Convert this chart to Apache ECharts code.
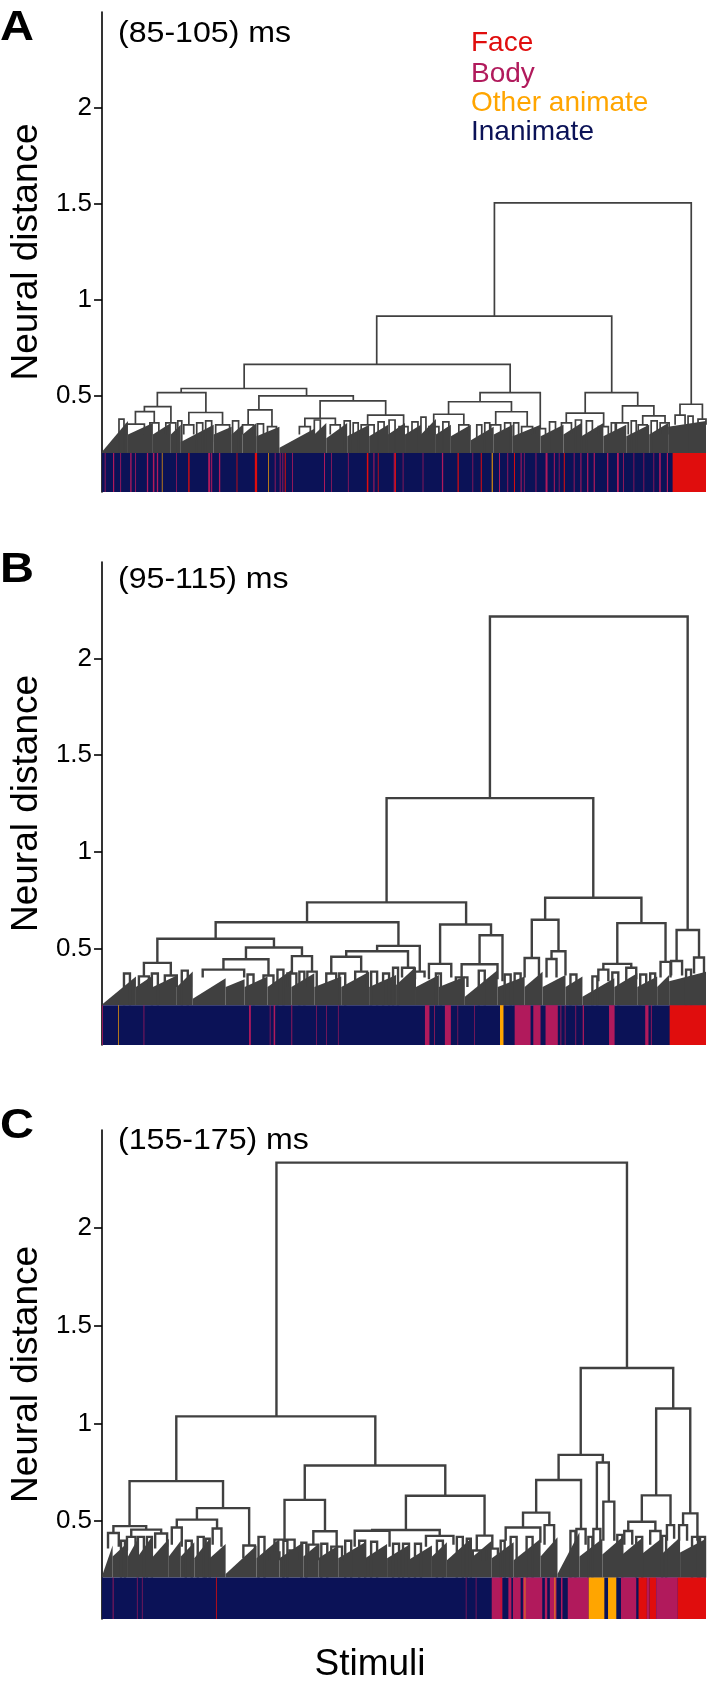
<!DOCTYPE html>
<html>
<head>
<meta charset="utf-8">
<script src="https://cdn.jsdelivr.net/npm/echarts@6/dist/echarts.min.js"></script>
<style>
  html, body { margin: 0; padding: 0; background: #fff; }
  #chart { width: 707px; height: 1682px; }
</style>
</head>
<body>
<div id="chart"></div>
<script>
  // x = stimulus position along the leaf order (0 .. nStim), y = neural distance
  var nStim = 606;
  var categories = ['Face', 'Body', 'Other animate', 'Inanimate'];
  var catColors = ['#e00d0d', '#b11a5c', '#ffa500', '#0b1257'];
  var panelLetters = ['A', 'B', 'C'];
  var timeWindows = ['(85-105) ms', '(95-115) ms', '(155-175) ms'];
  var yTicks = [0.5, 1, 1.5, 2];
  var barTop = [0.203, 0.206, 0.212]; // colour bar covers 0 .. barTop

  // dendrogram links: [x left child, x right child, merge height, left child height, right child height]
  var linksA = [
    [393.7, 591.2, 1.506, 0.916, 0.457], [275.6, 511.4, 0.916, 0.665, 0.518],
    [142.6, 409.5, 0.665, 0.539, 0.518], [79.4, 205.2, 0.539, 0.518, 0.501],
    [55.5, 104.2, 0.518, 0.445, 0.414], [157.4, 252.1, 0.501, 0.428, 0.475],
    [42.5, 69.1, 0.445, 0.419, 0.36], [87.1, 120.9, 0.414, 0.35, 0.35],
    [33.5, 52.4, 0.419, 0.353, 0.36], [218.8, 284.6, 0.475, 0.383, 0.400],
    [146.6, 170.5, 0.428, 0.35, 0.34], [203.5, 234.1, 0.383, 0.34, 0.35],
    [266.5, 302.6, 0.400, 0.35, 0.34], [379.3, 439.7, 0.518, 0.470, 0.33],
    [347.7, 410.8, 0.470, 0.405, 0.418], [332.8, 363, 0.405, 0.34, 0.35],
    [395, 426.6, 0.418, 0.35, 0.34], [484.8, 537.5, 0.518, 0.411, 0.449],
    [465.8, 503.3, 0.411, 0.36, 0.34], [522.2, 553.7, 0.449, 0.36, 0.397],
    [542.5, 564.9, 0.397, 0.35, 0.36], [579.9, 602.4, 0.457, 0.40, 0.38],
    [24.5, 42.5, 0.353, 0.3, 0.3], [64, 74, 0.36, 0.3, 0.3], [48, 57, 0.36, 0.3, 0.3],
    [82, 92, 0.35, 0.3, 0.3], [114, 128, 0.35, 0.3, 0.3], [141, 152, 0.35, 0.3, 0.3],
    [166, 175, 0.34, 0.3, 0.3], [198, 209, 0.34, 0.3, 0.3], [229, 239, 0.35, 0.3, 0.3],
    [260, 273, 0.35, 0.3, 0.3], [298, 307, 0.34, 0.3, 0.3], [434, 445, 0.33, 0.3, 0.3],
    [328, 338, 0.34, 0.3, 0.3], [358, 368, 0.35, 0.3, 0.3], [390, 400, 0.35, 0.3, 0.3],
    [421, 432, 0.34, 0.3, 0.3], [461, 471, 0.36, 0.3, 0.3], [498, 508, 0.34, 0.3, 0.3],
    [516, 528, 0.36, 0.3, 0.3], [538, 547, 0.35, 0.3, 0.3], [560, 569, 0.36, 0.3, 0.3],
    [575, 585, 0.40, 0.35, 0.35], [598, 606, 0.38, 0.35, 0.35]
  ];
  var linksB = [
    [389.2, 587.6, 2.218, 1.278, 0.595], [285.5, 492.9, 1.278, 0.738, 0.762],
    [576.5, 599, 0.595, 0.435, 0.453], [205.7, 365.3, 0.738, 0.635, 0.624],
    [444.6, 541.2, 0.762, 0.648, 0.631], [114, 297.4, 0.635, 0.55, 0.513],
    [339.2, 390.3, 0.624, 0.42, 0.568], [431.2, 458, 0.648, 0.45, 0.485],
    [517, 565.4, 0.631, 0.42, 0.43], [55.5, 172.5, 0.55, 0.425, 0.505],
    [276, 318.8, 0.513, 0.485, 0.38], [378.8, 401.8, 0.568, 0.418, 0.33],
    [328, 350.4, 0.42, 0.34, 0.35], [360.8, 396.8, 0.418, 0.35, 0.34],
    [42, 69, 0.425, 0.355, 0.36], [144.4, 200.6, 0.505, 0.444, 0.46],
    [121.8, 167, 0.444, 0.39, 0.36], [190.5, 210.7, 0.46, 0.37, 0.38],
    [245, 307, 0.485, 0.457, 0.40], [230, 260, 0.457, 0.37, 0.38],
    [301, 313, 0.40, 0.35, 0.36], [314, 323.6, 0.38, 0.34, 0.35],
    [37, 47, 0.355, 0.3, 0.3], [63, 75, 0.36, 0.3, 0.3], [101, 142.6, 0.39, 0.35, 0.35],
    [162, 172, 0.36, 0.3, 0.3], [186, 195, 0.37, 0.3, 0.3], [206, 215.4, 0.38, 0.3, 0.3],
    [225, 235, 0.37, 0.3, 0.3], [254, 266, 0.38, 0.3, 0.3], [355, 366.6, 0.35, 0.3, 0.3],
    [424, 438.4, 0.45, 0.35, 0.35], [451, 465, 0.485, 0.445, 0.36], [446, 456, 0.445, 0.35, 0.35],
    [503, 531, 0.42, 0.39, 0.40], [498, 508, 0.39, 0.33, 0.33], [526, 536, 0.40, 0.33, 0.34],
    [560.4, 570.4, 0.43, 0.35, 0.35], [571, 582, 0.435, 0.36, 0.36], [594, 604, 0.453, 0.37, 0.37]
  ];
  var linksC = [
    [175, 526.7, 2.333, 1.036, 1.283], [74.5, 274.2, 1.036, 0.705, 0.785],
    [480.3, 573.1, 1.283, 0.839, 1.076], [27.6, 121.4, 0.705, 0.475, 0.567],
    [203.4, 344.4, 0.785, 0.609, 0.63], [458.1, 502.5, 0.839, 0.711, 0.80],
    [556, 590.2, 1.076, 0.632, 0.54], [95.2, 147.6, 0.567, 0.508, 0.376],
    [11.4, 44.3, 0.475, 0.44, 0.457], [183.1, 223.7, 0.609, 0.406, 0.449],
    [304.9, 383.8, 0.63, 0.455, 0.426], [435.6, 480.6, 0.711, 0.544, 0.46],
    [496.5, 508.5, 0.80, 0.46, 0.60], [541.6, 570.4, 0.632, 0.497, 0.48],
    [583, 597.4, 0.54, 0.48, 0.40], [75, 115.4, 0.508, 0.468, 0.463],
    [141.8, 153.4, 0.376, 0.31, 0.31], [212, 235.4, 0.449, 0.38, 0.37],
    [173, 193.2, 0.406, 0.34, 0.35], [271, 338.8, 0.455, 0.451, 0.425],
    [376, 391.6, 0.426, 0.35, 0.36], [422.4, 448.8, 0.544, 0.468, 0.48],
    [6, 16.8, 0.44, 0.36, 0.37], [29.3, 59.3, 0.457, 0.42, 0.437], [25, 33.6, 0.42, 0.35, 0.36],
    [53.3, 65.3, 0.437, 0.36, 0.37], [70, 80, 0.468, 0.38, 0.37], [111, 119.8, 0.463, 0.38, 0.37],
    [253.5, 288.5, 0.451, 0.37, 0.37], [325, 352.6, 0.425, 0.37, 0.38], [405, 439.8, 0.468, 0.40, 0.39],
    [444, 453.6, 0.48, 0.38, 0.38], [476, 485.2, 0.46, 0.38, 0.38], [493, 500, 0.46, 0.37, 0.38],
    [503, 514, 0.60, 0.40, 0.40], [528, 555.2, 0.497, 0.45, 0.45], [524, 532, 0.45, 0.38, 0.38],
    [550, 560.4, 0.45, 0.38, 0.39], [566.8, 574, 0.48, 0.40, 0.41], [579, 587, 0.48, 0.40, 0.40],
    [168, 178, 0.34, 0.3, 0.3], [188, 198.4, 0.35, 0.3, 0.3], [207, 217, 0.38, 0.3, 0.3],
    [230, 240.8, 0.37, 0.3, 0.3], [372, 380, 0.35, 0.3, 0.3], [386, 397.2, 0.36, 0.3, 0.3]
  ];

  // small merges sticking out of the dense base: [x left, x right, merge height]
  var spikesA = [
    [17, 22, 0.38], [76, 80, 0.37], [95, 101, 0.36], [104, 110, 0.37], [131, 137, 0.37],
    [156, 162, 0.355], [213, 219, 0.375], [243, 249, 0.37], [252, 257, 0.36],
    [277, 283, 0.365], [288, 294, 0.375], [311, 317, 0.365], [320, 325, 0.39], [342, 348, 0.365],
    [376, 381, 0.35], [384, 389, 0.36], [404, 410, 0.36], [413, 418, 0.36], [449, 455, 0.365],
    [475, 481, 0.375], [486, 492, 0.37], [511, 515, 0.36], [531, 536, 0.37], [551, 557, 0.37],
    [588, 593, 0.395]
  ];
  var spikesB = [
    [22, 28, 0.37], [50, 56, 0.37], [80, 86, 0.385], [146, 152, 0.365],
    [176, 182, 0.39], [198, 203, 0.38], [238, 244, 0.37], [270, 276, 0.38], [282, 288, 0.37],
    [292, 297, 0.40], [335, 340, 0.37], [378, 384, 0.385], [404, 410, 0.365], [414, 420, 0.37],
    [470, 476, 0.365], [492, 497, 0.355], [512, 518, 0.375], [540, 546, 0.365], [550, 555, 0.37],
    [586, 591, 0.39]
  ];
  var spikesC = [
    [19, 23, 0.40], [36, 42, 0.42], [45, 50, 0.42], [84, 90, 0.40], [96, 102, 0.42],
    [104, 108, 0.41], [157, 163, 0.42], [182, 186, 0.40], [200, 205, 0.39],
    [220, 226, 0.385], [244, 250, 0.40], [258, 264, 0.40], [270, 276, 0.395], [292, 298, 0.385],
    [302, 308, 0.385], [314, 320, 0.385], [336, 342, 0.40], [356, 362, 0.42], [366, 370, 0.41],
    [400, 404, 0.40], [410, 416, 0.42], [426, 432, 0.42], [470, 475, 0.45],
    [488, 492, 0.42], [517, 522, 0.43], [536, 542, 0.42], [562, 566, 0.425], [592, 598, 0.42],
    [600, 605, 0.42]
  ];

  // dense low-level merges, drawn as filled runs: [x start, x end, height at start, height at end]
  var teethA = [
    [0, 26, 0.21, 0.37], [26, 51, 0.30, 0.36], [51, 69, 0.30, 0.36], [69, 79, 0.30, 0.35],
    [79, 112, 0.26, 0.35], [112, 130, 0.30, 0.34], [130, 141, 0.30, 0.35], [141, 155, 0.30, 0.36],
    [155, 178, 0.29, 0.34], [178, 213, 0.23, 0.33], [213, 225, 0.30, 0.36], [225, 246, 0.28, 0.36],
    [246, 268, 0.29, 0.35], [268, 287, 0.29, 0.35], [287, 304, 0.30, 0.36], [304, 320, 0.30, 0.35],
    [320, 335, 0.30, 0.38], [335, 350, 0.30, 0.35], [350, 370, 0.29, 0.35], [370, 393, 0.27, 0.34],
    [393, 412, 0.30, 0.35], [412, 440, 0.29, 0.35], [440, 463, 0.29, 0.35], [463, 481, 0.30, 0.36],
    [481, 503, 0.29, 0.36], [503, 526, 0.29, 0.35], [526, 549, 0.29, 0.35], [549, 568, 0.30, 0.36],
    [568, 606, 0.34, 0.37]
  ];
  var teethB = [
    [0, 34, 0.21, 0.355], [34, 51, 0.30, 0.36], [51, 75, 0.30, 0.36], [75, 91, 0.30, 0.38],
    [91, 124, 0.24, 0.345], [124, 143, 0.30, 0.34], [143, 166, 0.30, 0.355], [166, 190, 0.30, 0.388],
    [190, 213, 0.30, 0.371], [213, 240, 0.30, 0.355], [240, 268, 0.30, 0.379], [268, 295, 0.30, 0.362],
    [295, 315, 0.31, 0.405], [315, 338, 0.30, 0.362], [338, 364, 0.30, 0.355], [364, 397, 0.25, 0.388],
    [397, 424, 0.30, 0.355], [424, 442, 0.30, 0.379], [442, 465, 0.30, 0.362], [465, 482, 0.30, 0.355],
    [482, 514, 0.25, 0.345], [514, 537, 0.30, 0.371], [537, 557, 0.30, 0.355], [557, 569, 0.30, 0.362],
    [569, 606, 0.33, 0.379]
  ];
  var teethC = [
    [0, 10.6, 0.22, 0.376], [10.6, 26, 0.32, 0.393], [26, 36, 0.32, 0.41], [36, 49.6, 0.32, 0.418],
    [49.6, 67, 0.31, 0.41], [67, 79, 0.32, 0.40], [79, 92.6, 0.32, 0.393], [92.6, 108, 0.31, 0.41],
    [108, 124, 0.31, 0.384], [124, 155, 0.23, 0.376], [155, 178, 0.31, 0.41], [178, 202, 0.31, 0.393],
    [202, 217, 0.32, 0.384], [217, 237, 0.31, 0.376], [237, 264, 0.31, 0.393], [264, 286, 0.31, 0.384],
    [286, 307, 0.31, 0.376], [307, 331, 0.30, 0.376], [331, 346, 0.32, 0.393], [346, 370, 0.30, 0.41],
    [370, 391, 0.31, 0.40], [391, 413, 0.31, 0.393], [413, 440, 0.30, 0.41], [440, 457, 0.32, 0.418],
    [457, 479, 0.23, 0.444], [479, 502, 0.32, 0.41], [502, 522, 0.33, 0.418], [522, 541, 0.33, 0.41],
    [541, 561, 0.33, 0.41], [561, 580, 0.33, 0.418], [580, 606, 0.34, 0.41]
  ];

  // colour bar stripes: [x start, width, category index]; everything else is Inanimate
  var stripesA = [
    [2.7, 0.8, 1], [11, 1.2, 1], [18.3, 0.8, 1], [28.3, 1.3, 1], [33.3, 0.8, 1], [45, 1.3, 1],
    [51, 1.5, 1], [55, 1.3, 1], [60, 0.7, 2], [74.3, 0.7, 1], [86.5, 1.3, 0], [106.5, 2, 1],
    [109.5, 1, 1], [117.3, 1.3, 1], [135, 0.8, 0], [153.3, 2.3, 0], [166.7, 0.7, 2], [173.3, 0.8, 1],
    [178.3, 0.8, 1], [181, 0.8, 1], [183.3, 1, 0], [190.7, 0.8, 1], [222.7, 1, 1], [230, 0.7, 1],
    [246.7, 0.7, 1], [265.7, 1.5, 0], [272.3, 1, 1], [276.7, 0.8, 0], [292.7, 1, 1], [293.7, 1.2, 0],
    [301.7, 0.7, 1], [321.7, 0.7, 1], [341, 1.3, 1], [356.7, 1.2, 0], [371.7, 0.7, 1], [380, 1, 0],
    [391, 1, 2], [398.3, 1, 1], [406.7, 0.8, 1], [413.3, 1, 0], [420, 1, 1], [423.3, 0.7, 1],
    [435, 0.8, 1], [445, 2, 1], [453.3, 1, 1], [458.3, 0.7, 1], [463.3, 1, 0], [473.3, 0.8, 1],
    [480, 1, 1], [486.7, 1.2, 1], [493.3, 1.2, 1], [506.7, 1.3, 1], [516.7, 1.8, 1], [522.7, 0.8, 1],
    [533.3, 0.7, 1], [543.3, 0.7, 1], [553.3, 0.7, 1], [559, 1.6, 1], [566.7, 1.2, 1], [572.5, 33.5, 0]
  ];
  var stripesB = [
    [0, 0.8, 1], [16, 0.7, 2], [41.7, 0.7, 1], [147.5, 1.8, 1], [168.3, 0.7, 1], [172.2, 1.5, 1],
    [190, 0.8, 1], [215, 0.6, 1], [225, 0.6, 1], [236.7, 0.6, 1], [324, 4.5, 1], [333.3, 0.7, 1],
    [344, 6, 1], [356.7, 0.6, 1], [373.3, 0.6, 1], [399.3, 3.5, 2], [414, 16, 1], [432.7, 7.3, 1],
    [445, 12.3, 1], [460, 0.8, 1], [464.3, 0.7, 1], [475, 0.7, 1], [482.3, 1.2, 1], [508.7, 5.6, 1],
    [545, 3.3, 1], [550.7, 0.8, 1], [569.5, 36.5, 0]
  ];
  var stripesC = [
    [10.7, 0.8, 1], [35, 0.6, 1], [40, 0.6, 1], [114.3, 0.8, 0], [365, 0.6, 1], [375, 0.6, 1],
    [391, 10.7, 1], [400, 0.8, 0], [407.7, 3, 1], [412.3, 7.7, 1], [422.3, 19.4, 1], [424, 0.7, 2],
    [444.3, 2.4, 1], [449.3, 6.7, 1], [454, 0.8, 2], [460.5, 1.5, 1], [467.3, 21, 1], [488.3, 15.7, 2],
    [507.7, 8.3, 2], [520.7, 15.3, 1], [538.3, 8.4, 0], [546.7, 2.6, 1], [549.3, 6.7, 0],
    [556, 21.7, 1], [577.7, 28.3, 0]
  ];

  // spike legs run down into the dense base (to the colour bar)
  function withSpikes(links, spikes, floor) {
    return links.concat(spikes.map(function (s) {
      return [s[0], s[1], s[2], floor, floor];
    }));
  }
  var links = [withSpikes(linksA, spikesA, barTop[0]), withSpikes(linksB, spikesB, barTop[1]),
               withSpikes(linksC, spikesC, barTop[2])];
  var teeth = [teethA, teethB, teethC];
  var stripes = [stripesA, stripesB, stripesC];

  var font = 'Liberation Sans, Arial, sans-serif';
  var treeColor = '#404040';
  var gridBox = [{top: 12, height: 480}, {top: 562, height: 483}, {top: 1130, height: 489}];
  var lineWidths = [1.7, 2.4, 2.4];

  var chart = echarts.init(document.getElementById('chart'));

  var grids = [], xAxes = [], yAxes = [], series = [];
  gridBox.forEach(function (g, i) {
    grids.push({left: 100, width: nStim, top: g.top, height: g.height});
    xAxes.push({
      type: 'value', gridIndex: i, min: 0, max: nStim,
      axisLine: {show: false}, axisTick: {show: false}, axisLabel: {show: false}, splitLine: {show: false}
    });
    yAxes.push({
      type: 'value', gridIndex: i, min: 0, max: 2.5, interval: 0.5,
      name: 'Neural distance', nameLocation: 'middle', nameGap: 51,
      nameTextStyle: {fontSize: 37, color: '#000', fontFamily: font},
      axisLine: {show: true, lineStyle: {color: '#000', width: 1.6}},
      axisTick: {show: true, length: 8, customValues: yTicks, lineStyle: {color: '#000', width: 1.6}},
      axisLabel: {customValues: yTicks, fontSize: 26, color: '#000', fontFamily: font, margin: 10},
      splitLine: {show: false}
    });

    // dense undergrowth of the tree
    series.push({
      type: 'custom', xAxisIndex: i, yAxisIndex: i, silent: true, z: 2,
      data: teeth[i], encode: {x: [0, 1], y: [2, 3]},
      renderItem: function (params, api) {
        var x0 = api.value(0), x1 = api.value(1);
        return {
          type: 'polygon',
          shape: {points: [api.coord([x0, barTop[i]]), api.coord([x0, api.value(2)]),
                           api.coord([x1, api.value(3)]), api.coord([x1, barTop[i]])]},
          style: {fill: treeColor}
        };
      }
    });
    // links of the tree
    series.push({
      type: 'custom', xAxisIndex: i, yAxisIndex: i, silent: true, z: 3,
      data: links[i], encode: {x: [0, 1], y: [2, 3, 4]},
      renderItem: function (params, api) {
        var x1 = api.value(0), x2 = api.value(1), h = api.value(2);
        return {
          type: 'polyline',
          shape: {points: [api.coord([x1, api.value(3)]), api.coord([x1, h]),
                           api.coord([x2, h]), api.coord([x2, api.value(4)])]},
          style: {stroke: treeColor, lineWidth: lineWidths[i], fill: null}
        };
      }
    });
    // category colour bar
    series.push({
      type: 'custom', xAxisIndex: i, yAxisIndex: i, silent: true, z: 4,
      data: [[0, nStim, 3]].concat(stripes[i]), encode: {x: [0, 1]},
      renderItem: function (params, api) {
        var x = api.value(0), w = api.value(1);
        var p0 = api.coord([x, barTop[i]]), p1 = api.coord([x + w, 0]);
        return {
          type: 'rect',
          shape: {x: p0[0], y: p0[1], width: p1[0] - p0[0], height: p1[1] - p0[1]},
          style: {fill: catColors[api.value(2)]}
        };
      }
    });
  });

  var graphics = [];
  var letterY = [28, 570, 1126];
  var titleY = [33.5, 580, 1141];
  panelLetters.forEach(function (l, i) {
    graphics.push({type: 'text', x: 0, y: letterY[i], scaleX: 1.12, silent: true,
      style: {text: l, font: 'bold 42px ' + font, fill: '#000', verticalAlign: 'middle'}});
    graphics.push({type: 'text', x: 118, y: titleY[i], scaleX: 1.07, silent: true,
      style: {text: timeWindows[i], font: '30px ' + font, fill: '#000', verticalAlign: 'middle'}});
  });
  var legendY = [43, 74, 103, 132];
  categories.forEach(function (c, k) {
    graphics.push({type: 'text', x: 471, y: legendY[k], silent: true,
      style: {text: c, font: '28px ' + font, fill: catColors[k], verticalAlign: 'middle'}});
  });
  graphics.push({type: 'text', x: 370, y: 1665, silent: true,
    style: {text: 'Stimuli', font: '37px ' + font, fill: '#000', align: 'center', verticalAlign: 'middle'}});

  chart.setOption({
    animation: false,
    backgroundColor: '#fff',
    grid: grids,
    xAxis: xAxes,
    yAxis: yAxes,
    series: series,
    graphic: graphics
  });
</script>
</body>
</html>
